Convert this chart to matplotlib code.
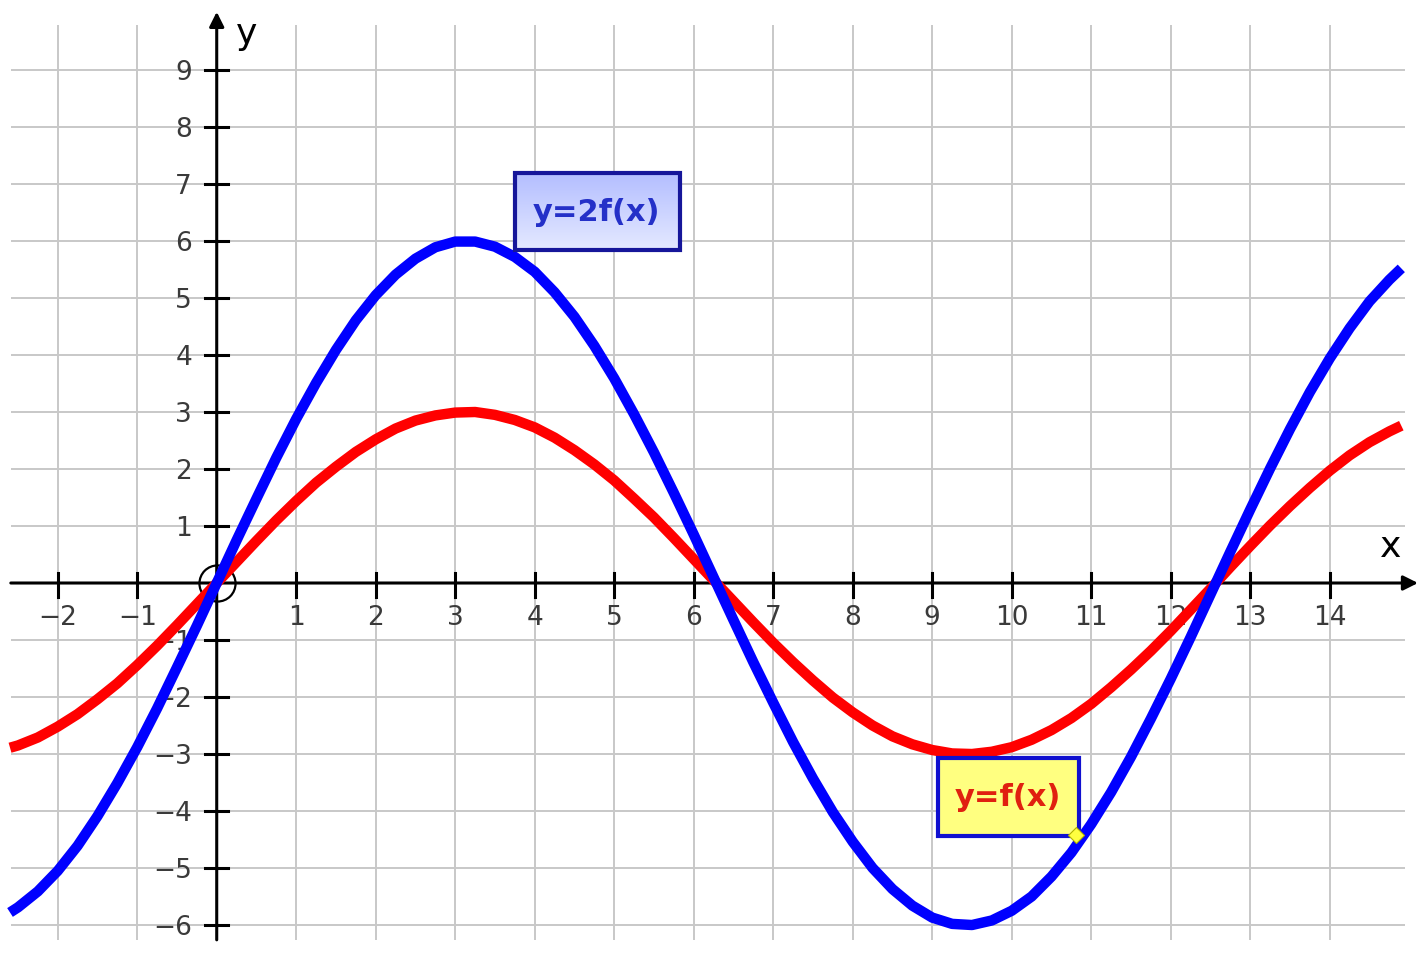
import matplotlib
matplotlib.use("Agg")
import matplotlib.pyplot as plt
import numpy as np
from matplotlib.patches import Rectangle

# sampled values of f(x) and 2f(x)
x_vals = [-2.6, -2.5, -2.25, -2.0, -1.75, -1.5, -1.25, -1.0, -0.75, -0.5, -0.25,
          0.0, 0.25, 0.5, 0.75, 1.0, 1.25, 1.5, 1.75, 2.0, 2.25, 2.5, 2.75,
          3.0, 3.25, 3.5, 3.75, 4.0, 4.25, 4.5, 4.75, 5.0, 5.25, 5.5, 5.75,
          6.0, 6.25, 6.5, 6.75, 7.0, 7.25, 7.5, 7.75, 8.0, 8.25, 8.5, 8.75,
          9.0, 9.25, 9.5, 9.75, 10.0, 10.25, 10.5, 10.75, 11.0, 11.25, 11.5,
          11.75, 12.0, 12.25, 12.5, 12.75, 13.0, 13.25, 13.5, 13.75, 14.0,
          14.25, 14.5, 14.75, 14.9]
f_vals = [-2.89, -2.85, -2.71, -2.52, -2.30, -2.04, -1.76, -1.44, -1.10, -0.74, -0.37,
          0.00, 0.37, 0.74, 1.10, 1.44, 1.76, 2.04, 2.30, 2.52, 2.71, 2.85, 2.94,
          2.99, 3.00, 2.95, 2.86, 2.73, 2.55, 2.33, 2.08, 1.80, 1.48, 1.15, 0.79,
          0.42, 0.05, -0.32, -0.69, -1.05, -1.39, -1.71, -2.01, -2.27, -2.50, -2.69, -2.83,
          -2.93, -2.99, -3.00, -2.96, -2.88, -2.75, -2.58, -2.37, -2.12, -1.83, -1.52,
          -1.19, -0.84, -0.47, -0.10, 0.28, 0.65, 1.01, 1.35, 1.67, 1.97,
          2.24, 2.47, 2.66, 2.76]
f2_vals = [-5.78, -5.69, -5.41, -5.05, -4.61, -4.09, -3.51, -2.88, -2.20, -1.48, -0.75,
           0.00, 0.75, 1.48, 2.20, 2.88, 3.51, 4.09, 4.61, 5.05, 5.41, 5.69, 5.89,
           5.99, 5.99, 5.90, 5.72, 5.46, 5.10, 4.67, 4.16, 3.59, 2.96, 2.29, 1.58,
           0.85, 0.10, -0.65, -1.39, -2.10, -2.79, -3.43, -4.02, -4.54, -5.00, -5.37, -5.66,
           -5.87, -5.98, -6.00, -5.92, -5.75, -5.50, -5.15, -4.73, -4.23, -3.67, -3.05,
           -2.38, -1.68, -0.95, -0.20, 0.55, 1.29, 2.01, 2.70, 3.35, 3.94,
           4.47, 4.94, 5.32, 5.52]

x_ticks = [-2, -1, 1, 2, 3, 4, 5, 6, 7, 8, 9, 10, 11, 12, 13, 14]
y_ticks = [-6, -5, -4, -3, -2, -1, 1, 2, 3, 4, 5, 6, 7, 8, 9]
grid_x = list(range(-2, 15))
grid_y = list(range(-6, 10))

fig = plt.figure(figsize=(14.18, 9.77), dpi=100)
ax = fig.add_axes([0, 0, 1, 1])
ax.set_xlim(-2.726, 15.11)
ax.set_ylim(-6.912, 10.228)
ax.axis("off")

# grid
ax.vlines(grid_x, -6.26, 9.79, color="#c8c8c8", lw=1.4, zorder=1)
ax.hlines(grid_y, -2.59, 14.95, color="#c8c8c8", lw=1.4, zorder=1)

# axes with arrows
arrow = dict(arrowstyle="-|>", lw=2.2, color="black", mutation_scale=22,
             shrinkA=0, shrinkB=0)
ax.annotate("", xy=(15.11, 0), xytext=(-2.59, 0), arrowprops=arrow,
            annotation_clip=False, zorder=3)
ax.annotate("", xy=(0, 10.02), xytext=(0, -6.26), arrowprops=arrow,
            annotation_clip=False, zorder=3)

for t in x_ticks:
    ax.plot([t, t], [0.175, -0.246], color="black", lw=2.2, zorder=3)
    ax.text(t, -0.61, "\u2212" + str(-t) if t < 0 else str(t),
            ha="center", va="center", fontsize=19, color="#3a3a3a", zorder=2)
for t in y_ticks:
    ax.plot([-0.15, 0.14], [t, t], color="black", lw=2.2, zorder=3)
    ax.text(-0.31, t - 0.05, "\u2212" + str(-t) if t < 0 else str(t),
            ha="right", va="center", fontsize=19, color="#3a3a3a", zorder=2)

ax.text(0.38, 9.63, "y", ha="center", va="center", fontsize=26, color="black")
ax.text(14.76, 0.63, "x", ha="center", va="center", fontsize=26, color="black")

# origin marker
ax.plot(0, 0, "o", ms=26, mfc="none", mec="black", mew=1.6, zorder=4)

# curves
ax.plot(x_vals, f_vals, color="#ff0000", lw=7.5, solid_capstyle="butt",
        solid_joinstyle="round", zorder=5)
ax.plot(x_vals, f2_vals, color="#0000ff", lw=7.5, solid_capstyle="butt",
        solid_joinstyle="round", zorder=6)

# label for 2f(x) with gradient fill
grad = np.linspace(0, 1, 50).reshape(-1, 1)
ax.imshow(grad, extent=(3.75, 5.83, 5.84, 7.19), aspect="auto",
          cmap=matplotlib.colors.LinearSegmentedColormap.from_list(
              "lbl", ["#e4e9ff", "#b4beff"]), origin="lower", zorder=7)
ax.add_patch(Rectangle((3.75, 5.84), 2.08, 1.35, fill=False,
                       edgecolor="#16169a", lw=3, zorder=8))
ax.text(4.78, 6.5, "y=2f(x)", ha="center", va="center", fontsize=22,
        fontweight="bold", color="#2430c8", zorder=9)

# label for f(x)
ax.add_patch(Rectangle((9.07, -4.44), 1.78, 1.37, facecolor="#ffff80",
                       edgecolor="#1010d0", lw=3, zorder=7))
ax.text(9.95, -3.76, "y=f(x)", ha="center", va="center", fontsize=22,
        fontweight="bold", color="#e02010", zorder=9)
ax.plot(10.81, -4.42, "D", ms=8, mfc="#ffff40", mec="#b0b000", mew=0.8, zorder=10)

plt.savefig("out.png", dpi=100)
plt.close(fig)
